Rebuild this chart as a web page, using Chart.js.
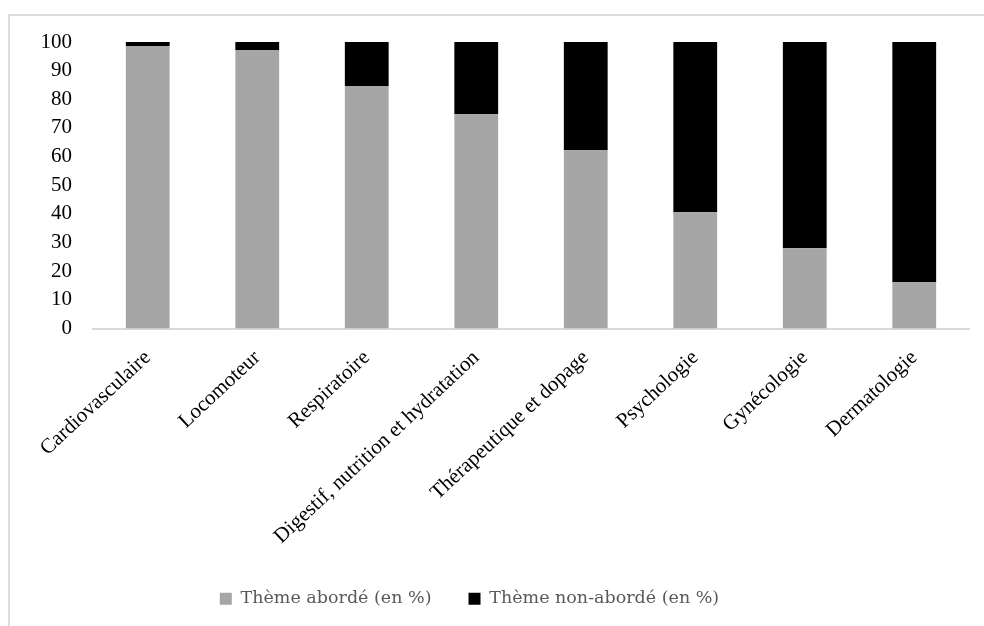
<!DOCTYPE html>
<html>
<head>
<meta charset="utf-8">
<script src="https://cdn.jsdelivr.net/npm/chart.js@4"></script>
<style>
  html, body { margin: 0; padding: 0; background: #fff; overflow: hidden; }
  #wrap { position: relative; width: 984px; height: 626px; }
  #frame {
    position: absolute; left: 8px; top: 14px; width: 1000px; height: 700px;
    border: 2px solid #dcdcdc; border-right: none; border-bottom: none;
  }
  canvas { position: absolute; left: 0; top: 0; }
</style>
</head>
<body>
<div id="wrap">
  <div id="frame"></div>
  <canvas id="chart" width="984" height="626"></canvas>
</div>
<script>
// values (percent)
const themes = [
  'Cardiovasculaire',
  'Locomoteur',
  'Respiratoire',
  'Digestif, nutrition et hydratation',
  'Thérapeutique et dopage',
  'Psychologie',
  'Gynécologie',
  'Dermatologie'
];
const abordes = [98.6, 97.2, 84.6, 74.8, 62.2, 40.6, 28, 16.1];
const nonAbordes = abordes.map(v => +(100 - v).toFixed(1));
const yTicks = [0, 10, 20, 30, 40, 50, 60, 70, 80, 90, 100];

const serif = "'Liberation Serif', 'Times New Roman', serif";

const ctx = document.getElementById('chart').getContext('2d');

new Chart(ctx, {
  type: 'bar',
  data: {
    labels: themes,
    datasets: [
      {
        label: 'Thème abordé (en %)',
        data: abordes,
        backgroundColor: '#a6a6a6',
        borderWidth: 0,
        barPercentage: 0.4,
        categoryPercentage: 1
      },
      {
        label: 'Thème non-abordé (en %)',
        data: nonAbordes,
        backgroundColor: '#000000',
        borderWidth: 0,
        barPercentage: 0.4,
        categoryPercentage: 1
      }
    ]
  },
  options: {
    responsive: false,
    animation: false,
    layout: { padding: { left: -30, right: 15, top: 42, bottom: 8.5 } },
    plugins: {
      tooltip: { enabled: false },
      legend: {
        position: 'bottom',
        labels: {
          boxWidth: 12,
          boxHeight: 12,
          padding: 37,
          color: '#595959',
          font: { family: "'DejaVu Serif', serif", size: 17.5 }
        }
      }
    },
    scales: {
      x: {
        stacked: true,
        grid: { display: false, drawTicks: false },
        border: { display: true, color: '#d9d9d9', width: 2 },
        ticks: {
          color: '#000',
          autoSkip: false,
          minRotation: 43,
          maxRotation: 43,
          padding: 17,
          font: { family: serif, size: 21 }
        },
        afterFit: scale => { scale.height = 224.5; }
      },
      y: {
        stacked: true,
        min: 0,
        max: 100,
        afterBuildTicks: scale => { scale.ticks = yTicks.map(v => ({ value: v })); },
        grid: { display: false, drawTicks: false },
        border: { display: false },
        ticks: {
          color: '#000',
          padding: 21,
          font: { family: serif, size: 21 }
        },
        afterFit: scale => { scale.width = 123; }
      }
    }
  }
});
</script>
</body>
</html>
